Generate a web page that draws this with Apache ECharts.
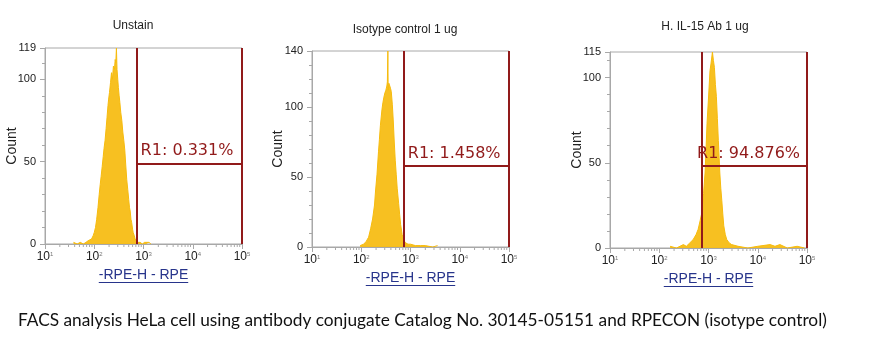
<!DOCTYPE html>
<html lang="en">
<head>
<meta charset="UTF-8">
<title>FACS histograms</title>
<style>
  body { margin: 0; background: #fff; }
  #main { width: 896px; height: 354px; }
</style>
<script src="https://cdn.jsdelivr.net/npm/echarts@6/dist/echarts.min.js"></script>
</head>
<body>
<div id="main"></div>
<script>
// panel settings
var titles = ['Unstain', 'Isotype control 1 ug', 'H. IL-15 Ab 1 ug'];
var yMax = [119, 140, 115];
var gateLabels = ['R1: 0.331%', 'R1: 1.458%', 'R1: 94.876%'];
var gateStart = [725, 730, 740];
var gateEnd = [100000, 100000, 100000];
var gateLevel = [49, 58, 48];
var xName = '-RPE-H - RPE';
var caption = 'FACS analysis HeLa cell using antibody conjugate Catalog No. 30145-05151 and RPECON (isotype control)';

// histograms (RPE intensity, count)
var unstainX = [38, 45, 52, 60, 68, 75, 82, 88, 95, 100, 106, 112, 119, 126, 132, 138, 145, 152, 158, 166, 174, 182, 190, 196, 204, 214, 224, 234, 245, 257, 266, 274, 282, 290, 300, 309, 320, 331, 345, 363, 380, 398, 417, 436, 457, 479, 501, 520, 537, 556, 575, 600, 617, 650, 676, 700, 726, 760, 800, 850, 891, 950, 1050, 1150, 1300, 1413];
var unstainY = [1, 0, 1, 0, 1, 2, 1, 3, 5, 7, 10, 15, 22, 30, 36, 41, 47, 53, 58, 63, 70, 77, 84, 88, 92, 98, 104, 100, 108, 106, 112, 110, 119, 106, 100, 95, 90, 86, 80, 75, 68, 63, 57, 48, 39, 33, 27, 22, 20, 15, 13, 9, 7, 5, 3, 2, 2, 1, 2, 1, 1, 0, 1, 0, 1, 0];

var isotypeX = [95, 112, 126, 141, 155, 170, 186, 195, 209, 224, 234, 245, 263, 275, 288, 302, 316, 331, 339, 347, 352, 363, 380, 395, 407, 427, 447, 468, 490, 513, 537, 575, 603, 631, 676, 724, 794, 891, 1000, 1259, 1585, 1995, 2818, 3548];
var isotypeY = [1, 2, 4, 7, 13, 20, 30, 40, 52, 68, 77, 87, 98, 103, 107, 110, 112, 115, 118, 140, 112, 117, 115, 113, 111, 102, 90, 75, 62, 52, 42, 31, 23, 16, 9, 5, 3, 2, 2, 1, 1, 1, 0, 1];

var il15X = [166, 224, 309, 355, 417, 490, 562, 617, 676, 724, 794, 851, 891, 933, 1000, 1072, 1122, 1202, 1259, 1318, 1380, 1445, 1514, 1585, 1698, 1778, 1862, 1950, 2042, 2188, 2344, 2630, 2951, 3981, 6310, 10000, 17783, 22387, 28184, 39811, 63096, 89125];
var il15Y = [1, 0, 2, 1, 3, 5, 8, 11, 16, 20, 32, 44, 58, 73, 88, 104, 108, 115, 110, 106, 96, 89, 76, 63, 44, 35, 28, 20, 13, 8, 5, 3, 2, 1, 0, 1, 2, 1, 2, 0, 1, 0];

var histX = [unstainX, isotypeX, il15X];
var histY = [unstainY, isotypeY, il15Y];

// log axis sub-ticks
var decades = [10, 100, 1000, 10000];
var subSteps = [2, 3, 4, 5, 6, 7, 8, 9];

var grids = [
  { left: 45, top: 48, width: 197, height: 196 },
  { left: 312, top: 51, width: 197, height: 196 },
  { left: 610, top: 52, width: 197, height: 196 }
];
var titlePos = [[133, 20], [405, 24], [705, 21]];
var countGap = [26, 27, 26];
var labelShift = [4, 4, -5];

var axisGray = '#a8a8a8';
var gateColor = '#911a1a';
var fillColor = '#f6bb0e';

var minorTicks = [];
decades.forEach(function (d) {
  subSteps.forEach(function (k) { minorTicks.push([d * k, 0]); });
});

var myChart = echarts.init(document.getElementById('main'));

var option = {
  animation: false,
  backgroundColor: '#fff',
  title: [],
  grid: [],
  xAxis: [],
  yAxis: [],
  series: []
};

for (var i = 0; i < 3; i++) {
  option.title.push({
    text: titles[i],
    left: titlePos[i][0],
    top: titlePos[i][1],
    textAlign: 'center',
    padding: 0,
    textStyle: { fontFamily: 'Liberation Sans', fontSize: 12, fontWeight: 'normal', color: '#222' }
  });
  option.grid.push({
    left: grids[i].left, top: grids[i].top, width: grids[i].width, height: grids[i].height,
    show: true, borderColor: axisGray, borderWidth: 1, backgroundColor: 'transparent'
  });
  option.xAxis.push({
    type: 'log', logBase: 10, gridIndex: i, min: 10, max: 100000,
    name: xName, nameLocation: 'middle', nameGap: 24,
    nameTextStyle: { fontFamily: 'Liberation Sans', fontSize: 14, color: '#27348b' },
    axisLine: { lineStyle: { color: axisGray } },
    axisTick: { length: 5, lineStyle: { color: axisGray } },
    splitLine: { show: false },
    axisLabel: {
      margin: 7,
      formatter: function (v) { return '{b|10}{s|' + Math.round(Math.log10(v)) + '}'; },
      rich: {
        b: { fontFamily: 'Liberation Sans', fontSize: 12, color: '#222' },
        s: { fontFamily: 'Liberation Sans', fontSize: 6, color: '#777', verticalAlign: 'top' }
      }
    }
  });
  option.yAxis.push({
    type: 'value', gridIndex: i, position: 'left', min: 0, max: yMax[i], interval: 50,
    name: 'Count', nameLocation: 'middle', nameRotate: 90, nameGap: countGap[i],
    nameMoveOverlap: false,
    nameTextStyle: { fontFamily: 'Liberation Sans', fontSize: 14, color: '#222' },
    axisLine: { show: true, lineStyle: { color: axisGray } },
    axisTick: { show: true, length: 5, lineStyle: { color: axisGray } },
    splitLine: { show: false },
    axisLabel: { margin: 9, fontFamily: 'Liberation Sans', fontSize: 11, color: '#222' }
  });
  option.yAxis.push({
    type: 'value', gridIndex: i, position: 'left', offset: 0, min: 0, max: yMax[i], interval: 10,
    axisLine: { show: false },
    axisTick: { show: true, length: 3, lineStyle: { color: axisGray } },
    axisLabel: { show: false },
    splitLine: { show: false }
  });

  var pts = histX[i].map(function (x, j) { return [x, histY[i][j]]; });
  option.series.push({
    type: 'line', xAxisIndex: i, yAxisIndex: i * 2, data: pts,
    showSymbol: false, symbol: 'none',
    lineStyle: { color: fillColor, width: 1 },
    areaStyle: { color: fillColor, opacity: 0.92 },
    z: 2,
    markLine: {
      silent: true, symbol: 'none',
      lineStyle: { color: gateColor, width: 2, type: 'solid' },
      label: { show: false },
      data: [
        [{ coord: [gateStart[i], 0] }, { coord: [gateStart[i], yMax[i]] }],
        [{ coord: [gateEnd[i], 0] }, { coord: [gateEnd[i], yMax[i]] }],
        [{
          coord: [gateStart[i], gateLevel[i]],
          label: {
            show: true, position: 'insideStartTop', distance: [labelShift[i], 4],
            formatter: gateLabels[i],
            fontFamily: 'DejaVu Sans', fontSize: 16, color: gateColor
          }
        }, { coord: [gateEnd[i], gateLevel[i]] }]
      ]
    }
  });
  option.series.push({
    type: 'custom', xAxisIndex: i, yAxisIndex: i * 2, data: minorTicks,
    silent: true, clip: false, z: 1,
    renderItem: function (params, api) {
      var p = api.coord([api.value(0), 0]);
      return {
        type: 'line',
        shape: { x1: p[0], y1: p[1], x2: p[0], y2: p[1] + 3 },
        style: { stroke: axisGray, lineWidth: 1 }
      };
    }
  });
}

option.title.push({
  text: caption, left: 18, top: 312, padding: 0,
  textStyle: { fontFamily: 'Lato', fontSize: 17.3, fontWeight: 'normal', color: '#111' }
});

myChart.setOption(option);

// underline the x axis names
var ctx = document.createElement('canvas').getContext('2d');
ctx.font = '14px "Liberation Sans"';
var nameW = ctx.measureText(xName).width;
var lines = [];
for (var k = 0; k < 3; k++) {
  var a = myChart.convertToPixel({ xAxisIndex: k, yAxisIndex: k * 2 }, [10, 0]);
  var b = myChart.convertToPixel({ xAxisIndex: k, yAxisIndex: k * 2 }, [100000, 0]);
  var cx = (a[0] + b[0]) / 2;
  lines.push({
    type: 'line', silent: true,
    shape: { x1: cx - nameW / 2, y1: a[1] + 38.5, x2: cx + nameW / 2, y2: a[1] + 38.5 },
    style: { stroke: '#27348b', lineWidth: 1 }
  });
}
myChart.setOption({ graphic: lines });
</script>
</body>
</html>
